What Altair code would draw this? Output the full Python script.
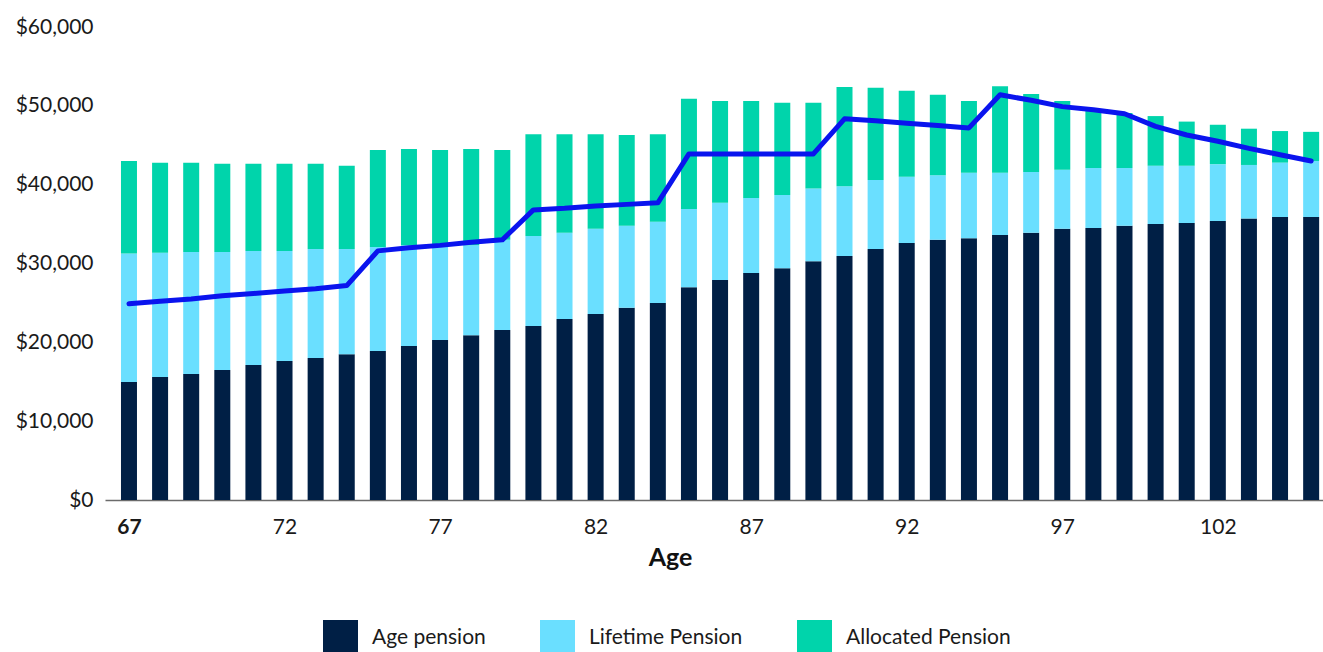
import altair as alt
import pandas as pd

# Retirement income by age, split into the three income sources
ages = list(range(67, 106))

age_pension = [14970, 15600, 15990, 16500, 17130, 17640, 18000, 18500, 18900, 19540,
               20300, 20900, 21570, 22080, 22970, 23600, 24400, 25000, 27000, 27900,
               28800, 29400, 30300, 30960, 31850, 32600, 33000, 33200, 33600, 33900,
               34400, 34500, 34800, 35000, 35150, 35400, 35700, 35900, 35900]

lifetime_pension = [16290, 15750, 15480, 14970, 14470, 13960, 13850, 13350, 13200, 12760,
                    11900, 11400, 11430, 11420, 10930, 10800, 10400, 10300, 9900, 9800,
                    9500, 9300, 9200, 8840, 8750, 8400, 8200, 8300, 7900, 7700,
                    7500, 7600, 7300, 7400, 7250, 7200, 6800, 6900, 7100]

allocated_pension = [11740, 11420, 11300, 11170, 11040, 11040, 10790, 10540, 12300, 12240,
                     12200, 12240, 11400, 12900, 12500, 12000, 11500, 11100, 14000, 12900,
                     12300, 11700, 10900, 12600, 11700, 10900, 10200, 9100, 11000, 9900,
                     8700, 7400, 7000, 6300, 5600, 5000, 4600, 4000, 3700]

# Comparison income line
comparison = [24900, 25200, 25500, 25900, 26200, 26500, 26800, 27200, 31600, 32000,
              32300, 32700, 33000, 36800, 37000, 37300, 37500, 37700, 43900, 43900,
              43900, 43900, 43900, 48350, 48100, 47800, 47500, 47200, 51400, 50700,
              49900, 49500, 49000, 47400, 46300, 45500, 44600, 43800, 43000]

series_names = ["Age pension", "Lifetime Pension", "Allocated Pension"]
series_colors = ["#001F45", "#6ADFFF", "#00D4AB"]
tick_ages = [67, 72, 77, 82, 87, 92, 97, 102]

rows = []
for i, a in enumerate(ages):
    for k, (name, vals) in enumerate(zip(series_names,
                                         [age_pension, lifetime_pension, allocated_pension])):
        rows.append({"age": a, "source": name, "amount": vals[i], "order": k})
bars_df = pd.DataFrame(rows)
line_df = pd.DataFrame({"age": ages, "income": comparison})

FONT = "Lato"

x_scale = alt.Scale(domain=[66.39, 105.22], nice=False, zero=False)
y_scale = alt.Scale(domain=[0, 60000], nice=False)

x_axis = alt.Axis(
    values=tick_ages,
    format="d",
    title="Age",
    grid=False,
    ticks=False,
    domainColor="#6B6B6B",
    domainWidth=1.5,
    labelFontSize=21,
    labelColor="#1A1A1A",
    labelPadding=16,
    labelFontWeight={"condition": {"test": "datum.value == 67", "value": "bold"},
                     "value": "normal"},
    titleFontSize=25,
    titleFontWeight="bold",
    titleColor="#111111",
    titlePadding=8,
    titleX=565,
)

y_axis = alt.Axis(
    values=[0, 10000, 20000, 30000, 40000, 50000, 60000],
    format="$,.0f",
    title=None,
    grid=False,
    ticks=False,
    domain=False,
    labelFontSize=21,
    labelColor="#1A1A1A",
    labelPadding=12,
)

bars = alt.Chart(bars_df).mark_bar(width=16).encode(
    x=alt.X("age:Q", scale=x_scale, axis=x_axis),
    y=alt.Y("amount:Q", stack="zero", scale=y_scale, axis=y_axis),
    color=alt.Color(
        "source:N",
        scale=alt.Scale(domain=series_names, range=series_colors),
        sort=series_names,
        legend=alt.Legend(
            title=None,
            orient="none",
            direction="horizontal",
            legendX=218,
            legendY=593,
            symbolType="square",
            symbolSize=1225,
            symbolStrokeWidth=0,
            symbolOpacity=1,
            labelFontSize=21,
            labelColor="#1A1A1A",
            labelOffset=14,
            labelLimit=400,
            columnPadding=54,
        ),
    ),
    order=alt.Order("order:Q", sort="ascending"),
)

line = alt.Chart(line_df).mark_line(color="#0A14EE", strokeWidth=5,
                                     strokeCap="round", strokeJoin="round").encode(
    x=alt.X("age:Q", scale=x_scale),
    y=alt.Y("income:Q", scale=y_scale),
)

chart = (
    alt.layer(bars, line)
    .properties(
        width=1218,
        height=473,
        autosize=alt.AutoSizeParams(type="none"),
        padding={"left": 105, "top": 27, "right": 0, "bottom": 152},
    )
    .configure(font=FONT)
    .configure_view(stroke=None)
)

chart.save("out.html", embed_options={"renderer": "svg", "actions": False})
